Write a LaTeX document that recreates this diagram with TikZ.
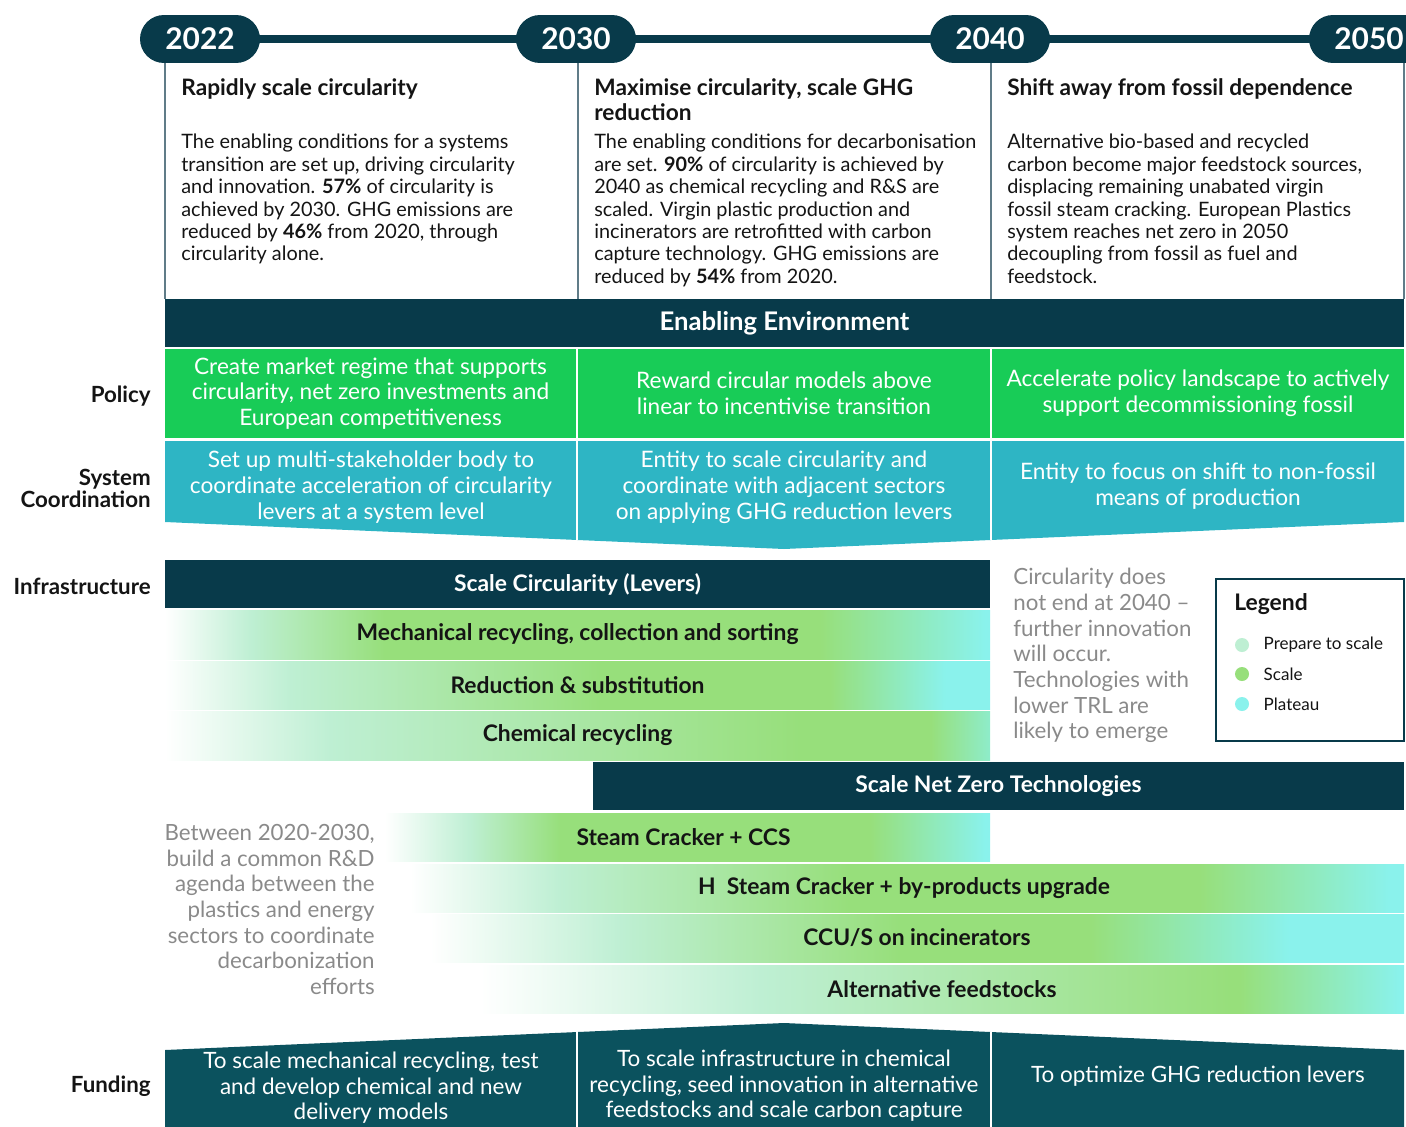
\documentclass[tikz,border=0pt]{standalone}
\usepackage{fontspec}
\setmainfont{Lato}
\usepackage{xcolor}
\usetikzlibrary{positioning,fit,calc}

\definecolor{deepTeal}{RGB}{8,58,74}
\definecolor{fundTeal}{RGB}{11,82,94}
\definecolor{policyGreen}{RGB}{24,204,87}
\definecolor{coordTeal}{RGB}{46,181,196}
\definecolor{prepMint}{RGB}{190,239,211}
\definecolor{scaleGreen}{RGB}{151,223,123}
\definecolor{plateauCyan}{RGB}{138,242,236}
\definecolor{noteGray}{RGB}{138,138,138}
\definecolor{ruleGray}{RGB}{96,124,136}
\definecolor{inkBlack}{RGB}{20,20,20}

% lever shadings (path box = 25bp..75bp)
\pgfdeclarehorizontalshading{mechShade}{100bp}{color(0bp)=(white); color(25bp)=(white); color(30.2bp)=(prepMint); color(38.3bp)=(scaleGreen); color(64.7bp)=(scaleGreen); color(74.7bp)=(plateauCyan); color(100bp)=(plateauCyan)}
\pgfdeclarehorizontalshading{redShade}{100bp}{color(0bp)=(white); color(25bp)=(white); color(32.6bp)=(prepMint); color(51.4bp)=(scaleGreen); color(65.3bp)=(scaleGreen); color(72.3bp)=(plateauCyan); color(100bp)=(plateauCyan)}
\pgfdeclarehorizontalshading{chemShade}{100bp}{color(0bp)=(white); color(25bp)=(white); color(35bp)=(prepMint); color(63.5bp)=(scaleGreen); color(71.4bp)=(scaleGreen); color(75bp)=(plateauCyan!70!scaleGreen); color(100bp)=(plateauCyan)}
\pgfdeclarehorizontalshading{ccsShade}{100bp}{color(0bp)=(white); color(25bp)=(white); color(32bp)=(prepMint); color(39.5bp)=(scaleGreen); color(65.1bp)=(scaleGreen); color(74.6bp)=(plateauCyan); color(100bp)=(plateauCyan)}
\pgfdeclarehorizontalshading{hydShade}{100bp}{color(0bp)=(white); color(25bp)=(white); color(32.5bp)=(prepMint); color(47.1bp)=(scaleGreen); color(64.7bp)=(scaleGreen); color(74.3bp)=(plateauCyan); color(100bp)=(plateauCyan)}
\pgfdeclarehorizontalshading{ccuShade}{100bp}{color(0bp)=(white); color(25bp)=(white); color(34.8bp)=(prepMint); color(49.1bp)=(scaleGreen); color(58.9bp)=(scaleGreen); color(69.1bp)=(plateauCyan); color(100bp)=(plateauCyan)}
\pgfdeclarehorizontalshading{altShade}{100bp}{color(0bp)=(white); color(25bp)=(white); color(40.2bp)=(prepMint); color(65.6bp)=(scaleGreen); color(66.1bp)=(scaleGreen); color(74.8bp)=(plateauCyan); color(100bp)=(plateauCyan)}

\begin{document}
\begin{tikzpicture}[x=0.02cm,y=-0.02cm,
    yearpill/.style={fill=deepTeal,text=white,rounded corners=0.48cm,minimum width=2.4cm,
      minimum height=0.96cm,inner sep=0pt,font=\fontsize{17}{20}\selectfont\bfseries},
    timeline/.style={draw=deepTeal,line width=4.5pt,shorten <=-3pt,shorten >=-3pt},
    colrule/.style={draw=ruleGray,line width=0.8pt},
    phasetitle/.style={anchor=north west,inner sep=0pt,align=left,text=inkBlack,
      font=\fontsize{12.9}{14.2}\selectfont\bfseries},
    phasetext/.style={anchor=north west,inner sep=0pt,align=left,text=inkBlack,
      font=\fontsize{11.3}{12.75}\selectfont},
    bandhead/.style={fill=deepTeal,inner sep=0pt},
    headtext/.style={inner sep=0pt,text=white,font=\fontsize{13}{15}\selectfont\bfseries},
    policycell/.style={fill=policyGreen,inner sep=0pt},
    celltext/.style={text=white,inner sep=0pt,align=center,font=\fontsize{12.9}{14.7}\selectfont},
    cellgap/.style={draw=white,line width=1pt},
    levbar/.style={shade,inner sep=0pt},
    levtext/.style={inner sep=0pt,text=inkBlack,font=\fontsize{13}{15}\selectfont\bfseries},
    rowlabel/.style={anchor=east,inner sep=0pt,align=right,text=inkBlack,
      font=\fontsize{12.7}{11.5}\selectfont\bfseries},
    notetext/.style={inner sep=0pt,text=noteGray,font=\fontsize{12.7}{14.6}\selectfont},
    legendbox/.style={draw=deepTeal,line width=0.7pt,fill=white,inner sep=0pt},
    legenddot/.style={circle,minimum size=0.28cm,inner sep=0pt},
    legendlabel/.style={inner sep=0pt,text=inkBlack,font=\fontsize{9.7}{11}\selectfont},
    fundtext/.style={text=white,inner sep=0pt,align=center,font=\fontsize{12.8}{14.5}\selectfont}]

\useasboundingbox (0,0) rectangle (1406,1126);

% Timeline
\node[yearpill] (y2022) at (200,39) {2022};
\node[yearpill] (y2030) at (576,39) {2030};
\node[yearpill] (y2040) at (990,39) {2040};
\node[yearpill] (y2050) at (1369,39) {2050};
\draw[timeline] (y2022.east) -- (y2030.west);
\draw[timeline] (y2030.east) -- (y2040.west);
\draw[timeline] (y2040.east) -- (y2050.west);

% Phase columns
\foreach \cx in {165,578,991,1404}
  \draw[colrule] (\cx,63) -- (\cx,299);

\node[phasetitle] (titleA) at (181,78) {Rapidly scale circularity};
\node[phasetext] (textA) at (181,134) {The enabling conditions for a systems\\
  transition are set up, driving circularity\\
  and innovation. \textbf{57\%} of circularity is\\
  achieved by 2030. GHG emissions are\\
  reduced by \textbf{46\%} from 2020, through\\
  circularity alone.};

\node[phasetitle] (titleB) at (594,78) {Maximise circularity, scale GHG\\reduction};
\node[phasetext] (textB) at (594,134) {The enabling conditions for decarbonisation\\
  are set. \textbf{90\%} of circularity is achieved by\\
  2040 as chemical recycling and R\&S are\\
  scaled. Virgin plastic production and\\
  incinerators are retrofitted with carbon\\
  capture technology. GHG emissions are\\
  reduced by \textbf{54\%} from 2020.};

\node[phasetitle] (titleC) at (1007,78) {Shift away from fossil dependence};
\node[phasetext] (textC) at (1007,134) {Alternative bio-based and recycled\\
  carbon become major feedstock sources,\\
  displacing remaining unabated virgin\\
  fossil steam cracking. European Plastics\\
  system reaches net zero in 2050\\
  decoupling from fossil as fuel and\\
  feedstock.};

% Enabling environment
\node[bandhead,fit={(165,299) (1404,347)}] (enabling) {};
\node[headtext,font=\fontsize{14.6}{17}\selectfont\bfseries] (enablingText) at (enabling.center) {Enabling Environment};

\node[policycell,fit={(165,349) (576,438)}] (policyA) {};
\node[policycell,fit={(578,349) (990,438)}] (policyB) {};
\node[policycell,fit={(992,349) (1404,438)}] (policyC) {};
\node[celltext] (policyAText) at (policyA.center) {Create market regime that supports\\circularity, net zero investments and\\European competitiveness};
\node[celltext] (policyBText) at (policyB.center) {Reward circular models above\\linear to incentivise transition};
\node[celltext] (policyCText) at (policyC.center) {Accelerate policy landscape to actively\\support decommissioning fossil};

\fill[coordTeal] (165,441) -- (1404,441) -- (1404,522) -- (784,549) -- (165,522) -- cycle;
\draw[cellgap] (577,441) -- (577,540) (991,441) -- (991,540);
\node[celltext] (coordA) at (371,487) {Set up multi-stakeholder body to\\coordinate acceleration of circularity\\levers at a system level};
\node[celltext] (coordB) at (784,487) {Entity to scale circularity and\\coordinate with adjacent sectors\\on applying GHG reduction levers};
\node[celltext] (coordC) at (1198,486) {Entity to focus on shift to non-fossil\\means of production};

% Row labels
\node[rowlabel] (labPolicy) at (151,396) {Policy};
\node[rowlabel] (labCoord) at (151,488) {System\\Coordination};
\node[rowlabel] (labInfra) at (151,586) {Infrastructure};
\node[rowlabel] (labFund) at (151,1086) {Funding};

% Infrastructure: circularity levers
\node[bandhead,fit={(165,560) (990,608)}] (circHead) {};
\node[headtext] (circHeadText) at (circHead.center) {Scale Circularity (Levers)};
\node[levbar,shading=mechShade,fit={(165,610) (990,659)}] (mech) {};
\node[levbar,shading=redShade,fit={(165,661) (990,709)}] (redsub) {};
\node[levbar,shading=chemShade,fit={(165,711) (990,760)}] (chem) {};
\node[levtext] (mechText) at (mech.center) {Mechanical recycling, collection and sorting};
\node[levtext] (redsubText) at (redsub.center) {Reduction \& substitution};
\node[levtext] (chemText) at (chem.center) {Chemical recycling};

% Infrastructure: net zero technologies
\node[bandhead,fit={(593,762) (1404,810)}] (nzHead) {};
\node[headtext] (nzHeadText) at (nzHead.center) {Scale Net Zero Technologies};
\node[levbar,shading=ccsShade,fit={(385,813) (990,861)}] (ccs) {};
\node[levbar,shading=hydShade,fit={(410,864) (1404,912)}] (hyd) {};
\node[levbar,shading=ccuShade,fit={(430,914) (1404,962)}] (ccu) {};
\node[levbar,shading=altShade,fit={(480,965) (1404,1013)}] (altfeed) {};
\node[levtext] (ccsText) at ($(ccs.center)+(-4,0)$) {Steam Cracker + CCS};
\node[levtext] (hydText) at ($(hyd.center)+(-3,0)$) {H\ \ Steam Cracker + by-products upgrade};
\node[levtext] (ccuText) at (ccu.center) {CCU/S on incinerators};
\node[levtext] (altfeedText) at (altfeed.center) {Alternative feedstocks};

% Notes
\node[notetext,anchor=north west,align=left] (noteCirc) at (1013,568) {Circularity does\\not end at 2040 --\\further innovation\\will occur.\\Technologies with\\lower TRL are\\likely to emerge};
\node[notetext,anchor=north east,align=right] (noteRnD) at (375,824) {Between 2020-2030,\\build a common R\&D\\agenda between the\\plastics and energy\\sectors to coordinate\\decarbonization\\efforts};

% Legend
\node[legendbox,fit={(1216,579) (1404,741)}] (legend) {};
\node[anchor=west,inner sep=0pt,text=inkBlack,font=\fontsize{13}{15}\selectfont\bfseries] (legendTitle) at (1234,604) {Legend};
\node[legenddot,fill=prepMint] (dotPrep) at (1242,645) {};
\node[legenddot,fill=scaleGreen] (dotScale) at (1242,674) {};
\node[legenddot,fill=plateauCyan] (dotPlat) at (1242,704) {};
\node[legendlabel,right=0.28cm of dotPrep] (labPrep) {Prepare to scale};
\node[legendlabel,right=0.28cm of dotScale] (labScale) {Scale};
\node[legendlabel,right=0.28cm of dotPlat] (labPlat) {Plateau};

% Funding
\fill[fundTeal] (165,1050) -- (784,1023) -- (1404,1050) -- (1404,1130) -- (165,1130) -- cycle;
\draw[cellgap] (577,1032) -- (577,1130) (991,1032) -- (991,1130);
\node[fundtext] (fundA) at (371,1088) {To scale mechanical recycling, test\\and develop chemical and new\\delivery models};
\node[fundtext] (fundB) at (784,1086) {To scale infrastructure in chemical\\recycling, seed innovation in alternative\\feedstocks and scale carbon capture};
\node[fundtext] (fundC) at (1198,1076) {To optimize GHG reduction levers};

\end{tikzpicture}
\end{document}
